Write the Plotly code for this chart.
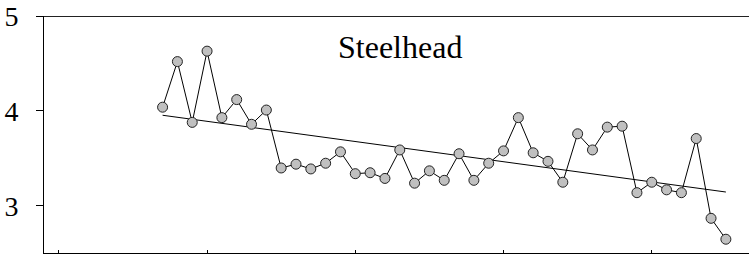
import plotly.graph_objects as go

years = list(range(1957, 1996))
values = [4.04, 4.52, 3.88, 4.63, 3.93, 4.12, 3.86, 4.01, 3.40, 3.44,
          3.39, 3.45, 3.57, 3.34, 3.35, 3.29, 3.59, 3.24, 3.37, 3.27,
          3.55, 3.27, 3.45, 3.58, 3.93, 3.56, 3.47, 3.25, 3.76, 3.59,
          3.83, 3.84, 3.14, 3.25, 3.17, 3.14, 3.71, 2.87, 2.65]
trend_x = [1957, 1995]
trend_y = [3.955, 3.147]
x_ticks = [1950, 1960, 1970, 1980, 1990]
y_ticks = [3, 4, 5]
title_text = "Steelhead"

SERIF = "Liberation Serif, Times New Roman, serif"

fig = go.Figure()
fig.add_trace(go.Scatter(x=trend_x, y=trend_y, mode="lines",
                         line=dict(color="black", width=1), showlegend=False,
                         cliponaxis=False))
fig.add_trace(go.Scatter(x=years, y=values, mode="lines+markers",
                         line=dict(color="black", width=1),
                         marker=dict(size=10, color="#c0c0c0",
                                     line=dict(color="#222222", width=1)),
                         showlegend=False, cliponaxis=False))

fig.add_annotation(x=1973, y=4.67, xref="x", yref="y", text=title_text,
                   showarrow=False, xanchor="center", yanchor="middle",
                   font=dict(family=SERIF, size=32, color="black"))

fig.add_shape(type="line", xref="paper", yref="y", x0=0, x1=1, y0=5, y1=5,
              line=dict(color="#222222", width=2))

fig.update_layout(
    width=749, height=254,
    margin=dict(l=44, r=0, t=16, b=1, pad=0, autoexpand=False),
    plot_bgcolor="white", paper_bgcolor="white",
    font=dict(family=SERIF, size=28, color="black"),
    xaxis=dict(range=[1949, 1996.56], tickvals=x_ticks, showticklabels=False,
               ticks="inside", ticklen=3, tickcolor="black",
               showline=True, linecolor="black", linewidth=1,
               showgrid=False, zeroline=False, automargin=False),
    yaxis=dict(range=[2.505, 5], tickvals=y_ticks, ticks="outside",
               ticklen=7, tickcolor="black", tickwidth=1,
               ticklabelstandoff=12,
               tickfont=dict(family=SERIF, size=28, color="black"),
               showline=True, linecolor="black", linewidth=1,
               showgrid=False, zeroline=False, automargin=False),
)

fig.write_html("out.html", config={"displayModeBar": False},
               post_script="document.body.style.margin='0';document.body.style.padding='0';document.body.style.overflow='hidden';")
